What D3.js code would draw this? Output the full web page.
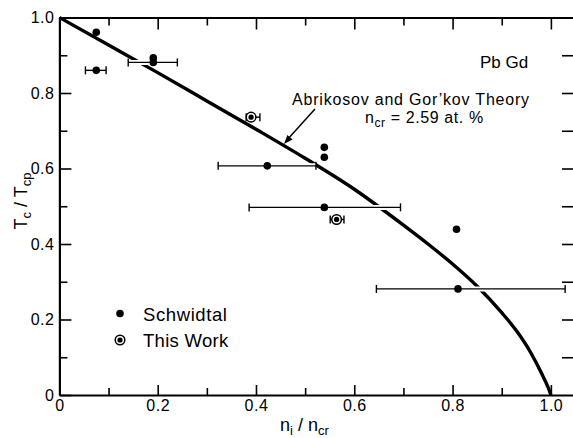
<!DOCTYPE html>
<html><head><meta charset="utf-8">
<script src="https://cdn.jsdelivr.net/npm/d3@7"></script>
<style>
html,body{margin:0;padding:0;background:#fff;}
svg{display:block;font-family:"Liberation Sans",Arial,sans-serif;}
</style></head>
<body><svg id="c" width="573" height="438"></svg>
<script>
// Abrikosov–Gor'kov theory curve
const theoryN = [0, 0.1, 0.2, 0.3, 0.4, 0.5, 0.6, 0.7, 0.75, 0.8, 0.85, 0.9, 0.93, 0.96, 0.98, 0.995, 1.0];
const theoryT = [1.0, 0.927, 0.854, 0.779, 0.704, 0.627, 0.545, 0.450, 0.400, 0.347, 0.288, 0.218, 0.170, 0.110, 0.060, 0.018, 0.0];

// Schwidtal data: x, y, error-bar low, high (null = no bar)
const schX  = [0.075, 0.075, 0.191, 0.191, 0.423, 0.539, 0.539, 0.539, 0.808, 0.811];
const schY  = [0.961, 0.860, 0.893, 0.881, 0.607, 0.656, 0.630, 0.497, 0.439, 0.281];
const schLo = [null, 0.053, null, 0.140, 0.323, null, null, 0.386, null, 0.645];
const schHi = [null, 0.095, null, 0.240, 0.522, null, null, 0.694, null, 1.029];

// This Work data
const twX  = [0.390, 0.564];
const twY  = [0.736, 0.465];
const twLo = [0.380, 0.551];
const twHi = [0.408, 0.579];

const xMajor = [0, 0.2, 0.4, 0.6, 0.8, 1.0];
const xMinor = [0.1, 0.3, 0.5, 0.7, 0.9];
const yMajor = [0, 0.2, 0.4, 0.6, 0.8, 1.0];
const yMinor = [0.1, 0.3, 0.5, 0.7, 0.9];
const rightTicks = [0.1,0.2,0.3,0.4,0.5,0.6,0.7,0.8,0.9];

const svg = d3.select("#c");
const x = d3.scaleLinear().domain([0, 1.045]).range([59.4, 573]);
const y = d3.scaleLinear().domain([0, 1]).range([395, 17.5]);
const fmt = d => d === 0 ? "0" : d.toFixed(1);

function styleAxis(g){
  g.selectAll("path.domain").attr("stroke","#000").attr("stroke-width",2.2);
  g.selectAll(".tick line").attr("stroke","#000").attr("stroke-width",1.6);
  g.selectAll("text").attr("fill","#000").attr("font-size",16).attr("font-family","Liberation Sans, Arial, sans-serif").attr("letter-spacing",0.5);
}

// bottom axis
const gb = svg.append("g").attr("transform",`translate(0,${y(0)})`)
  .call(d3.axisBottom(x).tickValues(xMajor).tickSize(-10).tickSizeOuter(0).tickPadding(5).tickFormat(fmt));
styleAxis(gb);
const gb2 = svg.append("g").attr("transform",`translate(0,${y(0)})`)
  .call(d3.axisBottom(x).tickValues(xMinor).tickSize(-7).tickSizeOuter(0).tickFormat(""));
styleAxis(gb2); gb2.select("path.domain").remove();

// top axis
const gt = svg.append("g").attr("transform",`translate(0,${y(1)})`)
  .call(d3.axisTop(x).tickValues(xMajor).tickSize(-12).tickSizeOuter(0).tickFormat(""));
styleAxis(gt);
const gt2 = svg.append("g").attr("transform",`translate(0,${y(1)})`)
  .call(d3.axisTop(x).tickValues(xMinor).tickSize(-8).tickSizeOuter(0).tickFormat(""));
styleAxis(gt2); gt2.select("path.domain").remove();

// left axis
const gl = svg.append("g").attr("transform",`translate(${x(0)},0)`)
  .call(d3.axisLeft(y).tickValues(yMajor).tickSize(-12).tickSizeOuter(0).tickPadding(5).tickFormat(fmt));
styleAxis(gl);
const gl2 = svg.append("g").attr("transform",`translate(${x(0)},0)`)
  .call(d3.axisLeft(y).tickValues(yMinor).tickSize(-8).tickSizeOuter(0).tickFormat(""));
styleAxis(gl2); gl2.select("path.domain").remove();

// right axis (at image edge)
const gr = svg.append("g").attr("transform",`translate(573,0)`)
  .call(d3.axisRight(y).tickValues(rightTicks).tickSize(-11).tickSizeOuter(0).tickFormat(""));
styleAxis(gr); gr.select("path.domain").remove();

// theory curve
const pts = theoryN.map((n,i)=>[n, theoryT[i]]);
svg.append("path").datum(pts)
  .attr("fill","none").attr("stroke","#000").attr("stroke-width",3.4)
  .attr("d", d3.line().x(d=>x(d[0])).y(d=>y(d[1])).curve(d3.curveMonotoneX));

// error bars (white halo breaks the curve where they cross, as in the original)
function errBar(lo, hi, yy){
  const g = svg.append("g");
  g.append("line").attr("x1",x(lo)).attr("x2",x(hi)).attr("y1",y(yy)).attr("y2",y(yy)).attr("stroke","#fff").attr("stroke-width",5);
  const b = g.append("g").attr("stroke","#000").attr("stroke-width",1.4);
  b.append("line").attr("x1",x(lo)).attr("x2",x(hi)).attr("y1",y(yy)).attr("y2",y(yy));
  b.append("line").attr("x1",x(lo)).attr("x2",x(lo)).attr("y1",y(yy)-4).attr("y2",y(yy)+4);
  b.append("line").attr("x1",x(hi)).attr("x2",x(hi)).attr("y1",y(yy)-4).attr("y2",y(yy)+4);
}
schX.forEach((v,i)=>{ if(schLo[i]!==null) errBar(schLo[i], schHi[i], schY[i]); });
twX.forEach((v,i)=>errBar(twLo[i], twHi[i], twY[i]));

// Schwidtal dots
svg.append("g").selectAll("circle").data(schX).join("circle")
  .attr("cx",d=>x(d)).attr("cy",(d,i)=>y(schY[i])).attr("r",3.8).attr("fill","#000");

// This Work markers
const tw = svg.append("g");
twX.forEach((v,i)=>{
  tw.append("circle").attr("cx",x(v)).attr("cy",y(twY[i])).attr("r",4.8).attr("fill","#fff").attr("stroke","#000").attr("stroke-width",1.5);
  tw.append("circle").attr("cx",x(v)).attr("cy",y(twY[i])).attr("r",2.6).attr("fill","#000");
});

// legend
svg.append("circle").attr("cx",120).attr("cy",313.5).attr("r",3.8).attr("fill","#000");
svg.append("text").attr("x",143).attr("y",320.5).attr("font-size",18.5).attr("letter-spacing",0.6).text("Schwidtal");
svg.append("circle").attr("cx",120).attr("cy",340).attr("r",4.8).attr("fill","#fff").attr("stroke","#000").attr("stroke-width",1.5);
svg.append("circle").attr("cx",120).attr("cy",340).attr("r",2.6).attr("fill","#000");
svg.append("text").attr("x",143).attr("y",347).attr("font-size",18.5).attr("letter-spacing",0.3).text("This Work");

// annotations
svg.append("text").attr("x",480).attr("y",68).attr("font-size",17).text("Pb Gd");
svg.append("text").attr("x",292).attr("y",105).attr("font-size",16).attr("letter-spacing",0.8).text("Abrikosov and Gor\u2019kov Theory");
const t2 = svg.append("text").attr("x",365).attr("y",122.5).attr("font-size",16).attr("letter-spacing",0.6);
t2.append("tspan").text("n");
t2.append("tspan").attr("dy",4).attr("font-size",12).text("cr");
t2.append("tspan").attr("dy",-4).text(" = 2.59 at. %");

// arrow
const ax1=315, ay1=109, ax2=284, ay2=144;
svg.append("line").attr("x1",ax1).attr("y1",ay1).attr("x2",ax2+3).attr("y2",ay2-4).attr("stroke","#000").attr("stroke-width",1.5);
const ang = Math.atan2(ay2-ay1, ax2-ax1);
const hl=9, hw=3.5;
const bx=ax2-hl*Math.cos(ang), by=ay2-hl*Math.sin(ang);
svg.append("path").attr("d",`M${ax2},${ay2}L${bx+hw*Math.sin(ang)},${by-hw*Math.cos(ang)}L${bx-hw*Math.sin(ang)},${by+hw*Math.cos(ang)}Z`).attr("fill","#000");

// axis titles
const xt = svg.append("text").attr("x",280).attr("y",431).attr("font-size",18);
xt.append("tspan").text("n");
xt.append("tspan").attr("dy",4).attr("font-size",13).text("i");
xt.append("tspan").attr("dy",-4).text(" / n");
xt.append("tspan").attr("dy",4).attr("font-size",13).text("cr");

const yt = svg.append("text").attr("transform","translate(27,201) rotate(-90)").attr("text-anchor","middle").attr("font-size",18);
yt.append("tspan").text("T");
yt.append("tspan").attr("dy",4).attr("font-size",13).text("c");
yt.append("tspan").attr("dy",-4).text(" / T");
yt.append("tspan").attr("dy",4).attr("font-size",13).text("cp");
</script></body></html>
